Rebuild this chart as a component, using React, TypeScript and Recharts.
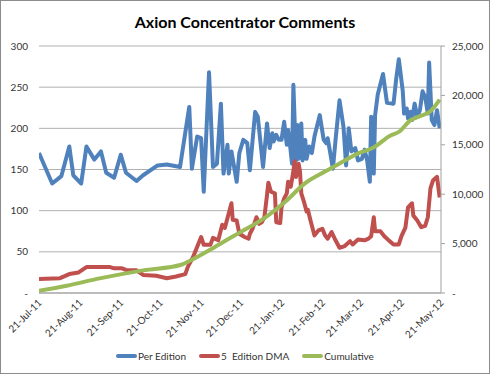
import { LineChart, Line, XAxis, YAxis, CartesianGrid } from 'recharts';

// x values are days since 21-Jul-11
const tickDays = [0, 31, 62, 92, 123, 153, 184, 215, 244, 275, 305];
const tickLabels = ['21-Jul-11', '21-Aug-11', '21-Sep-11', '21-Oct-11', '21-Nov-11', '21-Dec-11', '21-Jan-12', '21-Feb-12', '21-Mar-12', '21-Apr-12', '21-May-12'];

const editionDays = [0, 10, 17, 23, 26, 32, 36, 42, 47, 51, 57, 62, 66, 74, 79, 90, 97, 107, 114, 116, 120, 123, 125, 129, 132, 135, 138, 140, 143, 144, 146, 150, 152, 155, 158, 160, 164, 166, 170, 173, 175, 177, 178, 180, 182, 184, 186, 188, 189, 190, 192, 193, 195, 196, 197, 199, 200, 202, 203, 205, 207, 209, 213, 216, 218, 219, 221, 223, 225, 227, 228, 231, 233, 235, 237, 240, 242, 245, 247, 249, 251, 252, 254, 255, 257, 261, 264, 268, 269, 271, 273, 276, 277, 279, 280, 282, 283, 285, 287, 289, 291, 293, 295, 296, 298, 300, 302, 304];
const perEdition = [170, 133, 142, 178, 143, 133, 178, 162, 172, 146, 140, 168, 146, 136, 143, 155, 156, 153, 226, 151, 190, 188, 123, 268, 153, 157, 230, 145, 180, 145, 172, 135, 170, 186, 182, 149, 220, 214, 153, 206, 176, 194, 184, 192, 186, 186, 208, 180, 198, 186, 157, 253, 161, 204, 163, 206, 161, 186, 163, 178, 170, 190, 216, 186, 182, 188, 170, 151, 186, 218, 234, 202, 155, 200, 172, 176, 161, 163, 174, 161, 135, 214, 145, 216, 241, 266, 231, 230, 230, 260, 284, 245, 218, 224, 212, 220, 210, 230, 214, 222, 245, 238, 218, 280, 210, 204, 222, 200];

const dmaDays = [0, 16, 23, 30, 36, 54, 57, 63, 66, 74, 79, 89, 97, 104, 111, 113, 117, 123, 125, 130, 132, 136, 139, 141, 146, 147, 150, 152, 156, 159, 160, 162, 165, 167, 169, 171, 173, 174, 176, 179, 180, 183, 184, 186, 188, 189, 191, 193, 194, 195, 197, 198, 199, 201, 203, 204, 206, 208, 209, 212, 215, 217, 219, 222, 225, 228, 232, 236, 238, 242, 247, 250, 252, 254, 255, 259, 262, 266, 269, 273, 275, 278, 280, 283, 284, 287, 290, 293, 295, 297, 299, 302, 304];
const dma = [17, 18, 23, 25, 31.5, 31.5, 30, 30, 28, 27.5, 22, 21, 18, 20, 23, 32, 44, 68, 58.5, 58.5, 67, 64, 83, 79, 109, 89, 88, 72, 68, 66, 72, 78, 92, 84, 86, 92, 119, 134, 123, 121, 86, 85, 104, 115, 121, 135, 129, 148, 160, 141, 157, 148, 121, 111, 99, 101, 88, 76, 70, 76, 78, 70, 66, 74, 64, 55, 57, 63, 59, 65, 64, 66, 69, 92, 75, 75, 69, 63, 59, 59, 69, 79.5, 104, 109, 94, 88, 80, 81.5, 92, 127, 137, 141, 116];

const cumDays = [0, 21, 46, 79, 108, 116, 132, 147, 156, 171, 187, 202, 217, 232, 241, 254, 266, 274, 281, 289, 297, 304];
const cumulative = [235, 740, 1480, 2290, 2860, 3365, 4540, 5720, 6400, 7580, 9260, 11120, 12290, 13400, 14070, 14740, 15900, 16400, 17400, 17900, 18400, 19570];

const leftTicks = [0, 50, 100, 150, 200, 250, 300];
const rightTicks = [0, 5000, 10000, 15000, 20000, 25000];

const editionData = editionDays.map((day, i) => ({ day, value: perEdition[i] }));
const dmaData = dmaDays.map((day, i) => ({ day, value: dma[i] }));
const cumData = cumDays.map((day, i) => ({ day, value: cumulative[i] }));

const BLUE = '#4F81BD';
const RED = '#C0504D';
const GREEN = '#9BBB59';
const FONT = 'Lato, "Open Sans", sans-serif';
const TEXT = '#333';

const DateTick = ({ x, y, payload }: any) => {
  const i = tickDays.indexOf(payload.value);
  const ax = x + 1;
  const ay = y + 8;
  return (
    <text x={ax} y={ay} dy="0.35em" textAnchor="end" transform={`rotate(-45, ${ax}, ${ay})`}
      fontSize={10} fill={TEXT} fontFamily={FONT}>
      {tickLabels[i]}
    </text>
  );
};

const legendItems = [
  { label: 'Per Edition', color: BLUE },
  { label: '5  Edition DMA', color: RED },
  { label: 'Cumulative', color: GREEN },
];

export default function App() {
  return (
    <div style={{ position: 'absolute', left: 0, top: 0, width: 490, height: 374, background: '#fff', fontFamily: FONT }}>
      <div style={{ position: 'absolute', left: 0, top: 0, width: 490, height: 374, boxSizing: 'border-box', border: '1px solid #8c8c8c', pointerEvents: 'none' }} />
      <div style={{ position: 'absolute', left: 0, top: 12, width: 490, textAlign: 'center', fontSize: 16, fontWeight: 700, color: '#000' }}>
        Axion Concentrator Comments
      </div>
      <LineChart width={490} height={374} margin={{ top: 46, right: 4, bottom: 0, left: 9 }}>
        <CartesianGrid yAxisId="l" vertical={false} stroke="#b0b0b0" strokeWidth={1} />
        <XAxis
          dataKey="day"
          type="number"
          domain={[0, 305]}
          ticks={tickDays}
          allowDataOverflow
          height={81}
          tickSize={0}
          tickMargin={0}
          axisLine={{ stroke: '#a0a0a0' }}
          tickLine={false}
          tick={<DateTick />}
          interval={0}
        />
        <YAxis
          yAxisId="l"
          domain={[0, 300]}
          ticks={leftTicks}
          width={30}
          axisLine={false}
          tickLine={false}
          tickSize={0}
          tickMargin={11}
          tick={{ fontSize: 10, fill: TEXT, fontFamily: FONT }}
          tickFormatter={(v: number) => (v === 0 ? '-  ' : String(v))}
        />
        <YAxis
          yAxisId="r"
          orientation="right"
          domain={[0, 25000]}
          ticks={rightTicks}
          width={45}
          axisLine={{ stroke: '#a0a0a0' }}
          tickLine={{ stroke: '#a0a0a0' }}
          tickSize={4}
          tickMargin={7}
          tick={{ fontSize: 10, fill: TEXT, fontFamily: FONT, textAnchor: 'start' }}
          tickFormatter={(v: number) => (v === 0 ? ' -' : v.toLocaleString('en-US'))}
        />
        <Line yAxisId="l" data={editionData} dataKey="value" type="linear" stroke={BLUE} strokeWidth={4} dot={false} isAnimationActive={false} strokeLinejoin="round" />
        <Line yAxisId="l" data={dmaData} dataKey="value" type="linear" stroke={RED} strokeWidth={4} dot={false} isAnimationActive={false} strokeLinejoin="round" />
        <Line yAxisId="r" data={cumData} dataKey="value" type="monotone" stroke={GREEN} strokeWidth={4} dot={false} isAnimationActive={false} />
      </LineChart>
      <div style={{ position: 'absolute', left: 0, top: 350, width: 490, display: 'flex', justifyContent: 'center', gap: 13, fontSize: 10, color: TEXT }}>
        {legendItems.map((it) => (
          <div key={it.label} style={{ display: 'flex', alignItems: 'center', gap: 1 }}>
            <span style={{ display: 'inline-block', width: 21, height: 4, background: it.color, borderRadius: 2 }} />
            <span style={{ whiteSpace: 'pre' }}>{it.label}</span>
          </div>
        ))}
      </div>
    </div>
  );
}
